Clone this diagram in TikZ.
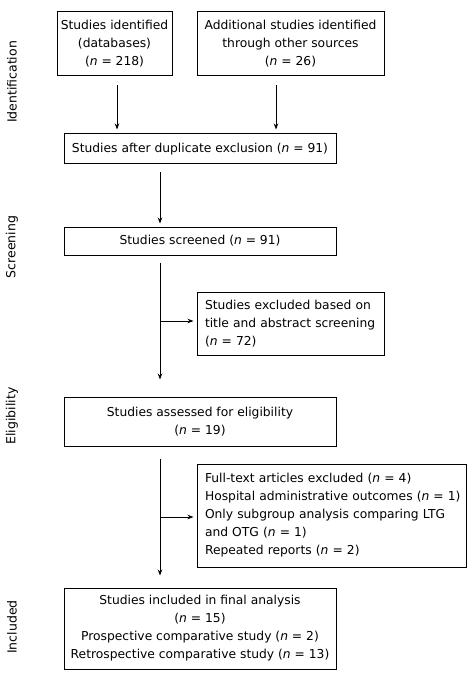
\documentclass[tikz,border=0pt]{standalone}
\usepackage{fontspec}
\setmainfont{DejaVu Sans}
\usetikzlibrary{arrows.meta}

\begin{document}
\begin{tikzpicture}[
		x=1pt, y=1pt,
		box/.style={draw, line width=1pt, inner sep=0pt, font=\fontsize{12.3}{18}\selectfont},
		box-center/.style={box, align=center},
		box-left/.style={box, align=left},
		phase/.style={rotate=90, font=\fontsize{12.5}{14}\selectfont},
		flow/.style={line width=1pt, -{Stealth[length=6pt,width=4.5pt]}},
		]

		\def\nn{\textit{n}}
		\def\spine{-40pt}

		\useasboundingbox (0,0) rectangle (472,-676);

		% phases
		\node[phase] (ph-ident) at (12,-82)  {Identification};
		\node[phase] (ph-screen) at (12,-247) {Screening};
		\node[phase] (ph-elig)  at (12,-416) {Eligibility};
		\node[phase] (ph-incl)  at (12,-627) {Included};

		% boxes
		\node[box-center, minimum width=115pt, minimum height=64pt] (db) at (114.5,-44)
		{Studies identified\\(databases)\\(\nn{} = 218)};
		\node[box-center, minimum width=187pt, minimum height=64pt] (other) at (290.5,-44)
		{Additional studies identified\\through other sources\\(\nn{} = 26)};
		\node[box-center, minimum width=272pt, minimum height=30pt] (dup) at (200,-149)
		{Studies after duplicate exclusion (\nn{} = 91)};
		\node[box-center, minimum width=272pt, minimum height=28pt] (screened) at (200,-241)
		{Studies screened (\nn{} = 91)};
		\node[box-left, minimum width=187pt, minimum height=63pt, text width=171pt] (excl-title) at (290.5,-323.5)
		{Studies excluded based on\\title and abstract screening\\(\nn{} = 72)};
		\node[box-center, minimum width=272pt, minimum height=49pt] (elig) at (200,-421.5)
		{Studies assessed for eligibility\\(\nn{} = 19)};
		\node[box-left, minimum width=269pt, minimum height=103pt, text width=253pt] (excl-full) at (331.5,-515.5)
		{\mbox{Full-text articles excluded (\nn{} = 4)}\\\mbox{Hospital administrative outcomes (\nn{} = 1)}\\\mbox{Only subgroup analysis comparing LTG}\\\mbox{and OTG (\nn{} = 1)}\\\mbox{Repeated reports (\nn{} = 2)}};
		\node[box-center, minimum width=272pt, minimum height=81pt] (incl) at (200,-628.5)
		{Studies included in final analysis\\(\nn{} = 15)\\Prospective comparative study (\nn{} = 2)\\Retrospective comparative study (\nn{} = 13)};

		% connectors
		\coordinate (split-title) at ([xshift=\spine]screened.south |- 0,-321);
		\coordinate (split-full) at ([xshift=\spine]elig.south |- 0,-517);

		\draw[flow, shorten <=9pt, shorten >=4pt] ([xshift=2.5pt]db.south) -- ([xshift=2.5pt]db.south |- dup.north);
		\draw[flow, shorten <=9pt, shorten >=4pt] ([xshift=-14.5pt]other.south) -- ([xshift=-14.5pt]other.south |- dup.north);
		\draw[flow, shorten <=8pt, shorten >=3pt] ([xshift=\spine]dup.south) -- ([xshift=\spine]screened.north);
		\draw[flow, shorten <=7pt, shorten >=17pt] ([xshift=\spine]screened.south) -- ([xshift=\spine]elig.north);
		\draw[flow, shorten >=3pt] (split-title) -- (split-title -| excl-title.west);
		\draw[flow, shorten <=12pt, shorten >=12pt] ([xshift=\spine]elig.south) -- ([xshift=\spine]incl.north);
		\draw[flow, shorten >=3pt] (split-full) -- (split-full -| excl-full.west);

	\end{tikzpicture}
\end{document}
